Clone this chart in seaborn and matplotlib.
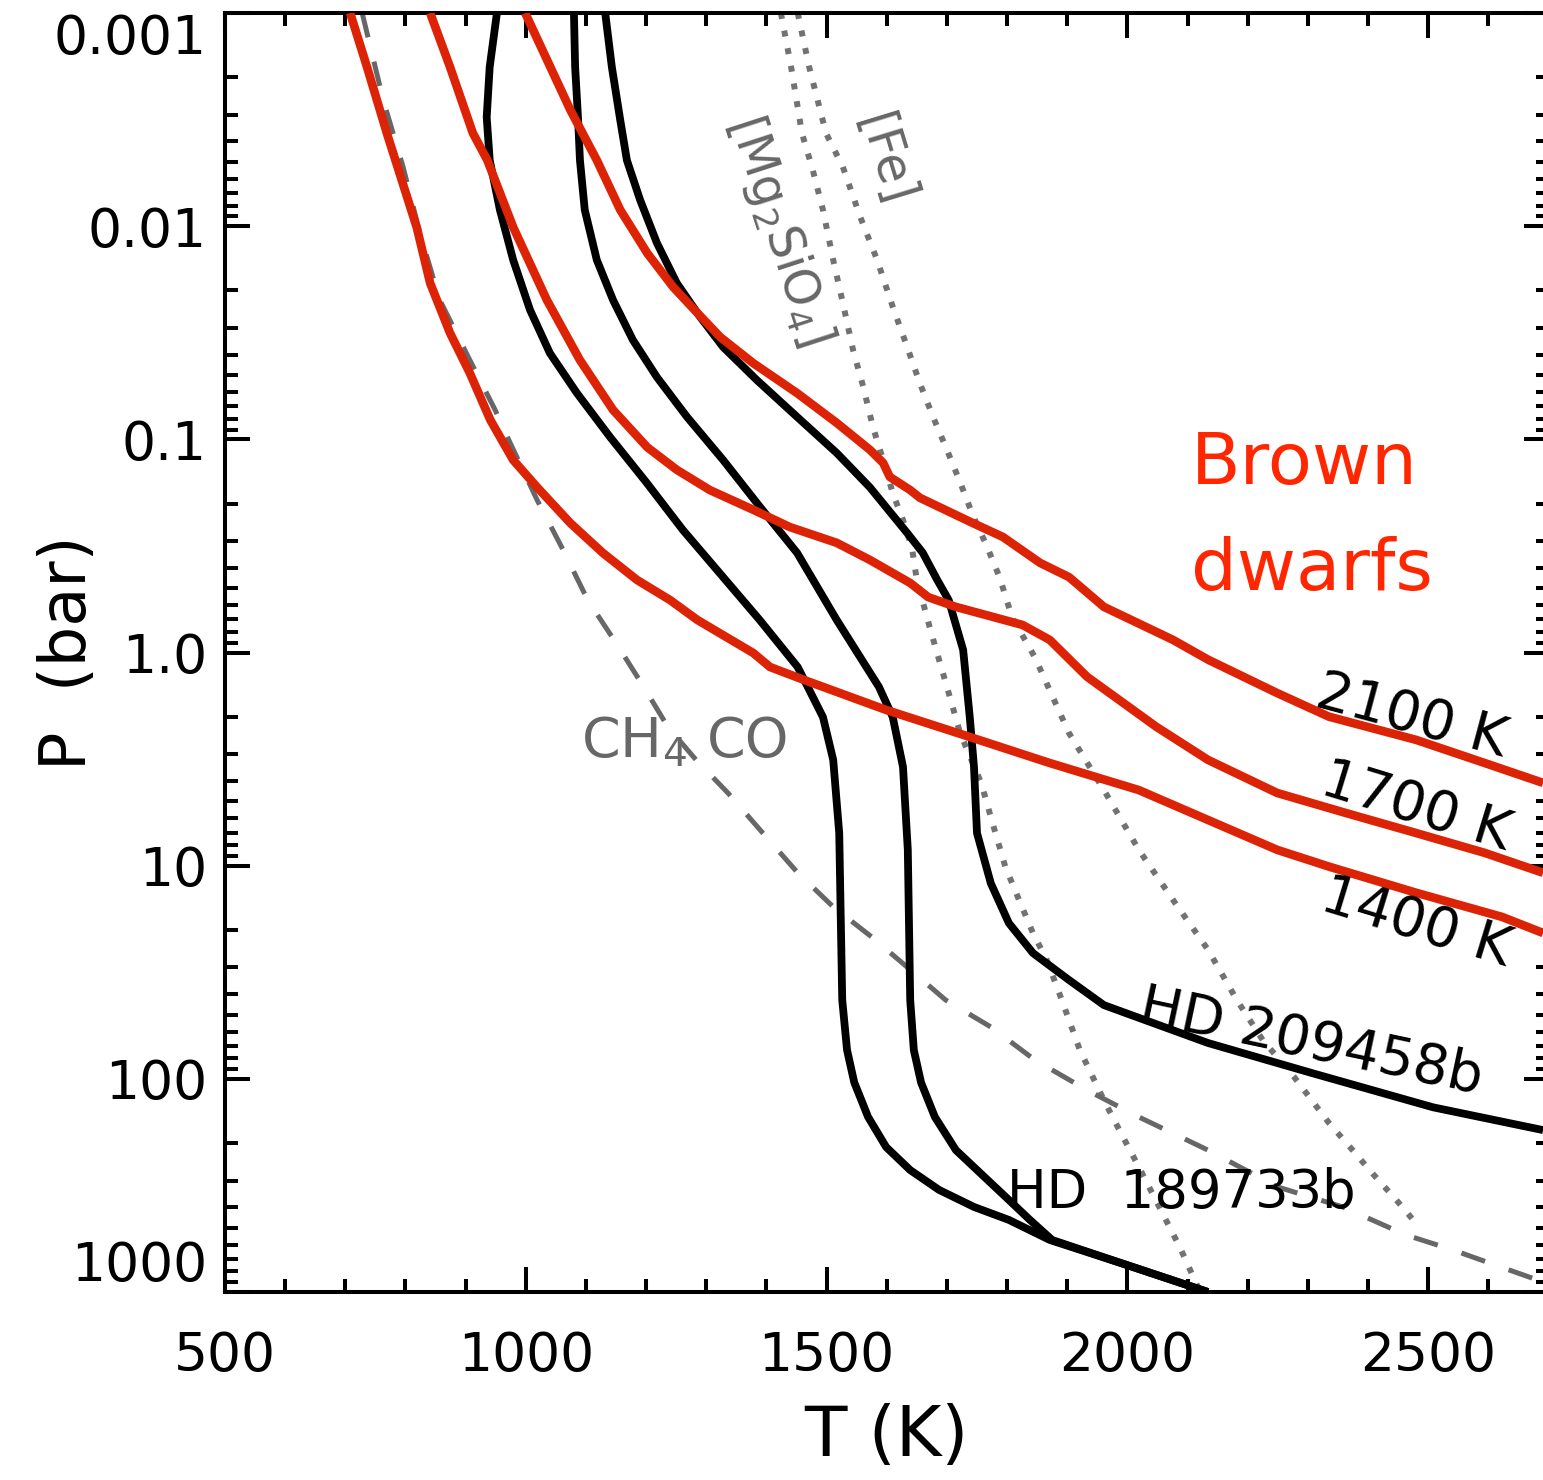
import matplotlib
matplotlib.use("Agg")
import matplotlib.pyplot as plt
import seaborn as sns
from matplotlib.ticker import FixedLocator, MultipleLocator, NullFormatter

sns.set_theme(style="ticks")
plt.rcParams["font.family"] = ["DejaVu Sans"]
plt.rcParams["mathtext.fontset"] = "dejavusans"

# ---------------- data (T in K, P in bar) ----------------
t_bd1400 = [708, 736, 769, 819, 841, 874, 907, 941, 979, 1019, 1074, 1128, 1185, 1240, 1285,
            1378, 1406, 1464, 1599, 1738, 1871, 2019, 2249, 2335, 2480, 2623, 2691]
p_bd1400 = [0.001, 0.00179, 0.00366, 0.0102, 0.0185, 0.0317, 0.0489, 0.0811, 0.125, 0.168,
            0.247, 0.341, 0.457, 0.568, 0.703, 1.005, 1.17, 1.35, 1.86, 2.49, 3.30, 4.42, 8.43,
            10.1, 13.4, 17.4, 20.7]

t_bd1700 = [841, 874, 912, 936, 979, 1035, 1090, 1145, 1202, 1251, 1306, 1378, 1439, 1517, 1572,
            1639, 1669, 1715, 1826, 1871, 1933, 2048, 2134, 2249, 2363, 2480, 2594, 2691]
p_bd1700 = [0.001, 0.00179, 0.00366, 0.0049, 0.0101, 0.0222, 0.0425, 0.0728, 0.109, 0.139,
            0.173, 0.214, 0.258, 0.306, 0.368, 0.472, 0.550, 0.611, 0.743, 0.873, 1.30, 2.23,
            3.19, 4.56, 5.66, 7.03, 8.71, 10.8]

t_bd2100 = [999, 1074, 1118, 1157, 1202, 1245, 1285, 1323, 1378, 1451, 1517, 1572, 1594, 1605,
            1639, 1655, 1743, 1793, 1855, 1903, 1961, 2076, 2134, 2249, 2335, 2480, 2594, 2691]
p_bd2100 = [0.001, 0.00285, 0.0049, 0.00839, 0.0134, 0.0193, 0.0255, 0.0331, 0.0439, 0.0607,
            0.0838, 0.112, 0.129, 0.150, 0.173, 0.188, 0.247, 0.287, 0.380, 0.443, 0.611, 0.873,
            1.08, 1.55, 2.00, 2.57, 3.30, 4.09]

t_hd189_a = [952, 940, 935, 940, 957, 979, 1007, 1040, 1085, 1140, 1201, 1261, 1328, 1389, 1452,
             1494, 1511, 1521, 1526, 1534, 1546, 1569, 1599, 1639, 1687, 1745, 1803, 1871, 1989, 2134]
p_hd189_a = [0.001, 0.00179, 0.00308, 0.0049, 0.00839, 0.0144, 0.0247, 0.0394, 0.0607, 0.0975,
             0.160, 0.266, 0.443, 0.705, 1.17, 2.01, 3.19, 7.03, 42.7, 73.3, 104, 151, 209, 268,
             332, 399, 459, 570, 731, 1000]

t_hd189_b = [1080, 1082, 1087, 1090, 1098, 1118, 1145, 1178, 1218, 1268, 1328, 1389, 1451, 1517,
             1587, 1610, 1627, 1635, 1639, 1645, 1657, 1680, 1715, 1762, 1803, 1838, 1875, 1989, 2134]
p_hd189_b = [0.001, 0.00179, 0.00318, 0.0049, 0.00839, 0.0144, 0.0222, 0.0342, 0.0511, 0.0785,
             0.125, 0.207, 0.341, 0.705, 1.45, 2.01, 3.44, 8.43, 42.7, 73.3, 104, 151, 216, 288,
             370, 459, 570, 731, 1000]

t_hd209 = [1132, 1143, 1157, 1168, 1190, 1218, 1251, 1290, 1328, 1384, 1451, 1517, 1572, 1634,
           1660, 1684, 1703, 1727, 1738, 1745, 1750, 1773, 1803, 1843, 1903, 1961, 2134, 2307,
           2508, 2691]
p_hd209 = [0.001, 0.00179, 0.00318, 0.0049, 0.00753, 0.0120, 0.0185, 0.0267, 0.0369, 0.0527,
           0.0785, 0.116, 0.168, 0.275, 0.341, 0.457, 0.568, 0.973, 2.01, 3.44, 7.03, 12.1, 18.6,
           25.7, 34.4, 45.1, 67.9, 94.0, 136, 174]

t_ch4co = [728, 763, 796, 824, 857, 907, 949, 974, 1019, 1062, 1103, 1150, 1196, 1236, 1283,
           1336, 1394, 1452, 1511, 1575, 1645, 1698, 1773, 1846, 1933, 2019, 2134, 2249, 2358,
           2463, 2541, 2621, 2691]
p_ch4co = [0.001, 0.00256, 0.00527, 0.0108, 0.0222, 0.0425, 0.0728, 0.104, 0.193, 0.330,
           0.568, 0.902, 1.45, 2.23, 3.19, 4.56, 7.03, 10.8, 15.6, 21.6, 31.8, 42.7, 57.1,
           81.5, 113, 151, 216, 321, 399, 540, 635, 764, 897]

t_mg2sio4 = [1424, 1441, 1459, 1477, 1494, 1511, 1527, 1544, 1561, 1577, 1594, 1610, 1627, 1642,
             1650, 1674, 1703, 1722, 1757, 1773, 1797, 1820, 1843, 1866, 1891, 1921, 1961, 1989,
             2019, 2053, 2087, 2121]
p_mg2sio4 = [0.001, 0.00179, 0.00366, 0.00545, 0.00839, 0.0144, 0.0229, 0.0381, 0.0568, 0.0875,
             0.125, 0.179, 0.239, 0.324, 0.457, 0.809, 1.55, 2.39, 4.09, 5.92, 10.1, 14.5, 20.7,
             27.7, 42.7, 73.3, 126, 179, 259, 399, 615, 1000]

t_fe = [1452, 1471, 1499, 1527, 1556, 1584, 1610, 1634, 1655, 1677, 1700, 1722, 1743, 1767, 1788,
        1808, 1846, 1903, 1961, 2019, 2076, 2134, 2182, 2225, 2277, 2335, 2370, 2408, 2447, 2485]
p_fe = [0.001, 0.00179, 0.00366, 0.00527, 0.00906, 0.0144, 0.0239, 0.0369, 0.0545, 0.0785,
        0.112, 0.159, 0.227, 0.320, 0.447, 0.681, 1.05, 2.39, 4.42, 8.43, 14.5, 24.8, 42.7,
        65.8, 97.9, 161, 209, 279, 370, 495]

x_ticks = [500, 1000, 1500, 2000, 2500]
x_ticklabels = ["500", "1000", "1500", "2000", "2500"]
y_ticks = [0.001, 0.01, 0.1, 1.0, 10, 100, 1000]
y_ticklabels = ["0.001", "0.01", "0.1", "1.0", "10", "100", "1000"]

# ---------------- figure ----------------
W, H = 1543, 1480
fig = plt.figure(figsize=(W / 100, H / 100), dpi=100)
ax = fig.add_axes([225 / W, 1 - 1292 / H, (1548.5 - 225) / W, (1292 - 13) / H])
ax.set_yscale("log")
ax.set_xlim(500, 2700)
ax.set_ylim(1000, 0.001)

RED = "#dc2305"
GRAY = "#676767"
DOT = "#727272"


def draw(t, p, color, lw, ls=None, z=2):
    sns.lineplot(x=t, y=p, sort=False, estimator=None, color=color,
                 linewidth=lw, ax=ax, zorder=z)
    line = ax.get_lines()[-1]
    if ls is not None:
        line.set_linestyle(ls)
        line.set_dash_capstyle("butt")
    line.set_solid_joinstyle("round")
    line.set_solid_capstyle("butt")
    return line


draw(t_mg2sio4, p_mg2sio4, DOT, 4.3, (0, (1, 2)), z=1)
draw(t_fe, p_fe, DOT, 4.3, (0, (1, 2)), z=1)
draw(t_ch4co, p_ch4co, GRAY, 3.6, (0, (5, 5)), z=1.5)
draw(t_hd189_a, p_hd189_a, "black", 5.6, z=2)
draw(t_hd189_b, p_hd189_b, "black", 5.6, z=2)
draw(t_hd209, p_hd209, "black", 5.6, z=2)
draw(t_bd1400, p_bd1400, RED, 6.2, z=3)
draw(t_bd1700, p_bd1700, RED, 6.2, z=3)
draw(t_bd2100, p_bd2100, RED, 6.2, z=3)

# ---------------- axes styling ----------------
ax.xaxis.set_major_locator(FixedLocator(x_ticks))
ax.xaxis.set_minor_locator(MultipleLocator(100))
ax.set_xticklabels(x_ticklabels)
ax.yaxis.set_major_locator(FixedLocator(y_ticks))
ax.yaxis.set_minor_locator(FixedLocator([k * 10.0 ** e for e in range(-3, 3) for k in range(2, 10)]))
ax.yaxis.set_minor_formatter(NullFormatter())
ax.set_yticklabels(y_ticklabels)

for s in ax.spines.values():
    s.set_linewidth(2.9)
    s.set_color("black")

ax.tick_params(which="both", direction="in", top=True, right=True, width=2.9,
               colors="black", labelcolor="black", labelsize=38.5)
ax.tick_params(which="major", length=18)
ax.tick_params(which="minor", length=9.4)
ax.tick_params(axis="x", pad=27)
ax.tick_params(axis="y", pad=13)

ylabs = ax.get_yticklabels()
ylabs[0].set_va("top")
ylabs[-1].set_va("bottom")

ax.set_xlabel("T (K)", fontsize=50, color="black")
ax.xaxis.set_label_coords(0.5, -0.0868)
ax.set_ylabel("P  (bar)", fontsize=46, color="black")
ax.yaxis.set_label_coords(-0.0952, 0.5)

# ---------------- annotations ----------------
txt = dict(rotation_mode="anchor", ha="center", va="center")
ax.text(1597, 0.0049, "[Fe]", fontsize=35, color=GRAY, rotation=-73, **txt)
ax.text(1422, 0.0104, "[Mg$_2$SiO$_4$]", fontsize=35, color=GRAY, rotation=-72, **txt)
ax.text(1092, 3.09, "CH$_4$", fontsize=40, color=GRAY, ha="left", va="baseline")
ax.text(1301, 3.09, "CO", fontsize=40, color=GRAY, ha="left", va="baseline")

ax.text(2473, 1.99, "2100 K", fontsize=40, color="black", rotation=-15, **txt)
ax.text(2480, 5.31, "1700 K", fontsize=40, color="black", rotation=-17, **txt)
ax.text(2480, 18.6, "1400 K", fontsize=40, color="black", rotation=-17, **txt)
ax.text(2305, 67.2, "HD 209458b", fontsize=40, color="black", rotation=-12, **txt)
ax.text(1800, 404, "HD  189733b", fontsize=38, color="black", ha="left", va="baseline")

ax.text(2105, 0.162, "Brown", fontsize=52, color="#ff2600", ha="left", va="baseline")
ax.text(2105, 0.509, "dwarfs", fontsize=52, color="#ff2600", ha="left", va="baseline")

fig.savefig("out.png", dpi=100)
